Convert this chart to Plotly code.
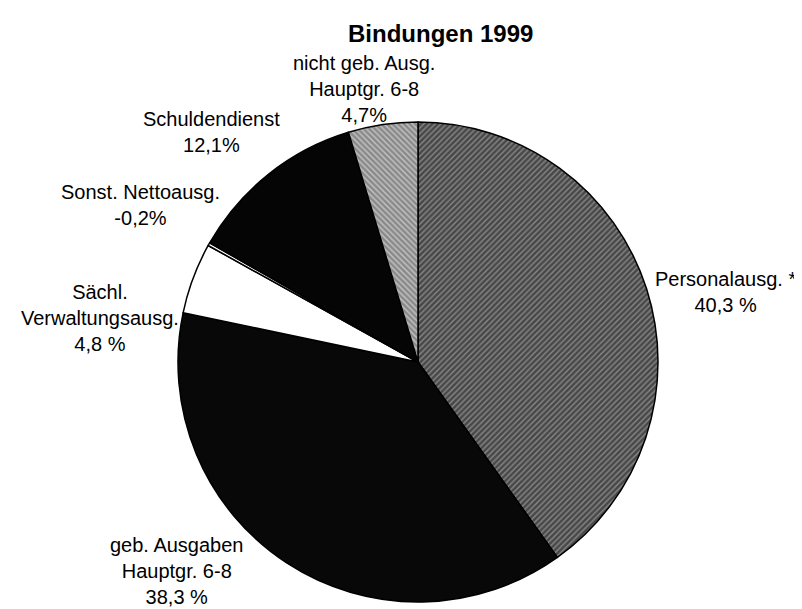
import plotly.graph_objects as go

# ---- data ----
categories = ["Personalausg. *", "geb. Ausgaben<br>Hauptgr. 6-8", "Sächl.<br>Verwaltungsausg.",
              "Sonst. Nettoausg.", "Schuldendienst", "nicht geb. Ausg.<br>Hauptgr. 6-8"]
values = [40.3, 38.3, 4.8, -0.2, 12.1, 4.7]
pct_labels = ["40,3 %", "38,3 %", "4,8 %", "-0,2%", "12,1%", "4,7%"]
title_text = "Bindungen 1999"

# ---- style ----
W, H = 802, 609
base_colors = ["#484848", "#080808", "#ffffff", "#ffffff", "#050505", "#8a8a8a"]
pat_shapes = ["/", "", "", "", "", "\\"]
pat_fg = ["#c8c8c8", "#303030", "#ffffff", "#ffffff", "#050505", "#ffffff"]
# label centres in pixels
label_pos = [(717, 284), (168, 563), (92, 310), (132, 197), (204, 124), (356, 81)]

cx, cy, r = 410, 354, 240

fig = go.Figure()
fig.add_trace(go.Pie(
    labels=[c.replace("<br>", " ") for c in categories],
    values=[abs(v) for v in values],
    sort=False,
    direction="clockwise",
    rotation=0,
    textinfo="none",
    hoverinfo="label+text",
    hovertext=pct_labels,
    showlegend=False,
    marker=dict(
        colors=base_colors,
        line=dict(color="black", width=1.5),
        pattern=dict(shape=pat_shapes, fgcolor=pat_fg, size=4, solidity=0.35, fillmode="overlay"),
    ),
    domain=dict(x=[(cx - r) / W, (cx + r) / W], y=[1 - (cy + r) / H, 1 - (cy - r) / H]),
))

annotations = []
for cat, pct, (px, py) in zip(categories, pct_labels, label_pos):
    annotations.append(dict(
        x=px / W, y=1 - py / H, xref="paper", yref="paper",
        xanchor="center", yanchor="middle", showarrow=False,
        text=f"{cat}<br>{pct}", align="center",
        font=dict(family="Arial, Liberation Sans, sans-serif", size=20, color="black"),
    ))
annotations.append(dict(
    x=432 / W, y=1 - 26 / H, xref="paper", yref="paper",
    xanchor="center", yanchor="middle", showarrow=False,
    text=f"<b>{title_text}</b>",
    font=dict(family="Arial, Liberation Sans, sans-serif", size=24, color="black"),
))

fig.update_layout(
    width=W, height=H,
    margin=dict(l=0, r=0, t=0, b=0),
    paper_bgcolor="white", plot_bgcolor="white",
    annotations=annotations,
)

fig.write_html("out.html")
